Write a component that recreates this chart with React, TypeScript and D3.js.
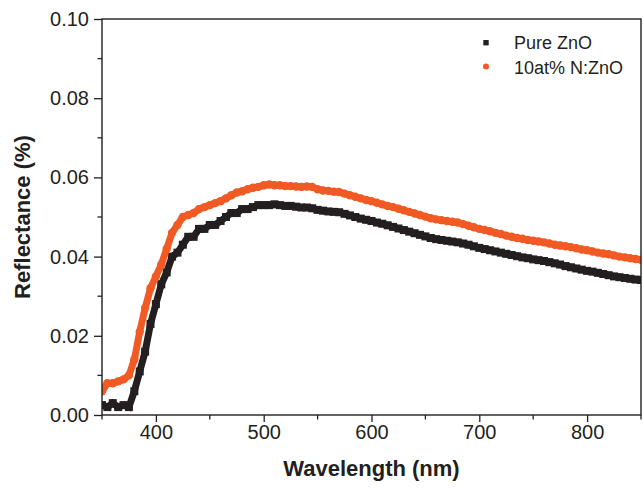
import React, { useEffect, useRef } from 'react';
import * as d3 from 'd3';

// wavelength in nm, read every 5 nm off the plot
const wavelength = [
  350, 355, 360, 365, 370, 375, 380, 385, 390, 395,
  400, 405, 410, 415, 420, 425, 430, 435, 440, 445,
  450, 455, 460, 465, 470, 475, 480, 485, 490, 495,
  500, 505, 510, 515, 520, 525, 530, 535, 540, 545,
  550, 555, 560, 565, 570, 575, 580, 585, 590, 595,
  600, 605, 610, 615, 620, 625, 630, 635, 640, 645,
  650, 655, 660, 665, 670, 675, 680, 685, 690, 695,
  700, 705, 710, 715, 720, 725, 730, 735, 740, 745,
  750, 755, 760, 765, 770, 775, 780, 785, 790, 795,
  800, 805, 810, 815, 820, 825, 830, 835, 840, 845,
  850,
];

const pureZnO = [
  0.0025, 0.002, 0.003, 0.002, 0.0025, 0.002, 0.006, 0.011, 0.016, 0.023,
  0.028, 0.033, 0.036, 0.040, 0.041, 0.043, 0.045, 0.045, 0.047, 0.047,
  0.048, 0.048, 0.049, 0.050, 0.051, 0.051, 0.052, 0.052, 0.0525, 0.053,
  0.053, 0.053, 0.0532, 0.053, 0.0528, 0.0528, 0.0526, 0.0524, 0.0524, 0.0522,
  0.0518, 0.0516, 0.0514, 0.0513, 0.0512, 0.0508, 0.0504, 0.05, 0.0496, 0.0493,
  0.049, 0.0486, 0.0483, 0.0479, 0.0475, 0.0471, 0.0467, 0.0463, 0.0459, 0.0455,
  0.0451, 0.0447, 0.0444, 0.0442, 0.044, 0.0438, 0.0436, 0.0433, 0.043, 0.0426,
  0.0422, 0.0419, 0.0416, 0.0413, 0.041, 0.0407, 0.0404, 0.0401, 0.0398, 0.0396,
  0.0393, 0.0391, 0.0389, 0.0386, 0.0383, 0.038, 0.0376, 0.0373, 0.037, 0.0367,
  0.0364, 0.0362, 0.0359, 0.0356, 0.0353, 0.035, 0.0348, 0.0346, 0.0344, 0.0342,
  0.0341,
];

const nDopedZnO = [
  0.006, 0.008, 0.008, 0.0085, 0.009, 0.010, 0.014, 0.021, 0.027, 0.032,
  0.035, 0.038, 0.042, 0.046, 0.048, 0.050, 0.0505, 0.051, 0.052, 0.0525,
  0.053, 0.0535, 0.054, 0.0547, 0.0555, 0.0562, 0.0565, 0.057, 0.0574, 0.0576,
  0.058, 0.0582, 0.058, 0.058, 0.0578, 0.0578, 0.0577, 0.0576, 0.0577, 0.0576,
  0.057, 0.0567, 0.0566, 0.0564, 0.0563, 0.0559, 0.0555, 0.0551, 0.0547, 0.0543,
  0.054, 0.0536, 0.0532, 0.0528, 0.0525, 0.0521, 0.0517, 0.0513, 0.0509, 0.0505,
  0.0501, 0.0497, 0.0494, 0.0492, 0.049, 0.0488, 0.0486, 0.0482, 0.0478, 0.0474,
  0.047, 0.0467, 0.0464, 0.046, 0.0457, 0.0453, 0.045, 0.0447, 0.0445, 0.0442,
  0.044, 0.0438, 0.0436, 0.0433, 0.043, 0.0428, 0.0426, 0.0424, 0.0421, 0.0418,
  0.0416, 0.0413, 0.041, 0.0408, 0.0406, 0.0403, 0.04, 0.0398, 0.0396, 0.0394,
  0.0392,
];

const seriesNames = ['Pure ZnO', '10at% N:ZnO'];
const xMajorTicks = [400, 500, 600, 700, 800];
const xMinorTicks = [350, 450, 550, 650, 750, 850];
const yMajorTicks = [0, 0.02, 0.04, 0.06, 0.08, 0.1];
const yMinorTicks = [0.01, 0.03, 0.05, 0.07, 0.09];

const BLACK = '#231f20';
const ORANGE = '#f15a24';
const FONT = '"Liberation Sans", Arial, sans-serif';

export default function App() {
  const svgRef = useRef<SVGSVGElement>(null);

  useEffect(() => {
    const W = 643, H = 488;
    const margin = { top: 19, right: 2, bottom: 73, left: 102 };
    const width = W - margin.left - margin.right;
    const height = H - margin.top - margin.bottom;

    const svg = d3.select(svgRef.current);
    svg.selectAll('*').remove();

    const x = d3.scaleLinear().domain([350, 850]).range([0, width]);
    const y = d3.scaleLinear().domain([0, 0.1]).range([height, 0]);

    svg.append('defs').append('clipPath').attr('id', 'plotClip')
      .append('rect').attr('width', width).attr('height', height);

    const g = svg.append('g').attr('transform', `translate(${margin.left},${margin.top})`);

    // data: thick line underneath, markers on top
    const plot = g.append('g').attr('clip-path', 'url(#plotClip)');
    const pts = (vals: number[]) => wavelength.map((w, i) => ({ w, v: vals[i] }));
    const line = d3.line<{ w: number; v: number }>().x(d => x(d.w)).y(d => y(d.v));

    const black = pts(pureZnO);
    const orange = pts(nDopedZnO);

    plot.append('path').datum(black).attr('d', line)
      .attr('fill', 'none').attr('stroke', BLACK).attr('stroke-width', 7);
    plot.selectAll('.sq').data(black).enter().append('rect')
      .attr('x', d => x(d.w) - 4).attr('y', d => y(d.v) - 4)
      .attr('width', 8).attr('height', 8).attr('fill', BLACK);

    plot.append('path').datum(orange).attr('d', line)
      .attr('fill', 'none').attr('stroke', ORANGE).attr('stroke-width', 7);
    plot.selectAll('.dot').data(orange).enter().append('circle')
      .attr('cx', d => x(d.w)).attr('cy', d => y(d.v)).attr('r', 4.2).attr('fill', ORANGE);

    // axes
    const xAxis = g.append('g').attr('transform', `translate(0,${height})`);
    xAxis.call(d3.axisBottom(x).tickValues(xMajorTicks).tickSize(7).tickPadding(3).tickFormat(d3.format('d')));
    xAxis.selectAll('.minor').data(xMinorTicks).enter().append('line')
      .attr('x1', d => x(d)).attr('x2', d => x(d)).attr('y1', 0).attr('y2', 4.5)
      .attr('stroke', BLACK).attr('stroke-width', 1.3);

    const yAxis = g.append('g');
    yAxis.call(d3.axisLeft(y).tickValues(yMajorTicks).tickSize(8).tickPadding(5).tickFormat(d3.format('.2f')));
    yAxis.selectAll('.minor').data(yMinorTicks).enter().append('line')
      .attr('x1', 0).attr('x2', -4.5).attr('y1', d => y(d)).attr('y2', d => y(d))
      .attr('stroke', BLACK).attr('stroke-width', 1.3);

    [xAxis, yAxis].forEach(a => {
      a.select('.domain').remove();
      a.selectAll('.tick line').attr('stroke', BLACK).attr('stroke-width', 1.3);
      a.selectAll('.tick text').attr('fill', BLACK).style('font-family', FONT).style('font-size', '20px');
    });

    // frame
    g.append('rect').attr('width', width).attr('height', height)
      .attr('fill', 'none').attr('stroke', BLACK).attr('stroke-width', 1.4);

    // axis titles
    g.append('text').attr('x', width / 2).attr('y', height + 61)
      .attr('text-anchor', 'middle').attr('fill', BLACK)
      .style('font-family', FONT).style('font-size', '22px').style('font-weight', 'bold')
      .text('Wavelength (nm)');
    g.append('text').attr('transform', `translate(${30 - margin.left},${height / 2}) rotate(-90)`)
      .attr('text-anchor', 'middle').attr('fill', BLACK)
      .style('font-family', FONT).style('font-size', '22px').style('font-weight', 'bold')
      .text('Reflectance (%)');

    // legend
    const legend = svg.append('g').attr('transform', 'translate(486,0)');
    legend.append('rect').attr('x', -2.7).attr('y', 40).attr('width', 5.4).attr('height', 5.4).attr('fill', BLACK);
    legend.append('circle').attr('cx', 0).attr('cy', 66.5).attr('r', 3).attr('fill', ORANGE);
    legend.selectAll('.lt').data(seriesNames).enter().append('text')
      .attr('x', 28).attr('y', (d, i) => 49 + i * 24.5).attr('fill', BLACK)
      .style('font-family', FONT).style('font-size', '18px')
      .text(d => d);
  }, []);

  return (
    <svg ref={svgRef} width={643} height={488}
      style={{ position: 'absolute', left: 0, top: 0, background: '#fff' }} />
  );
}
